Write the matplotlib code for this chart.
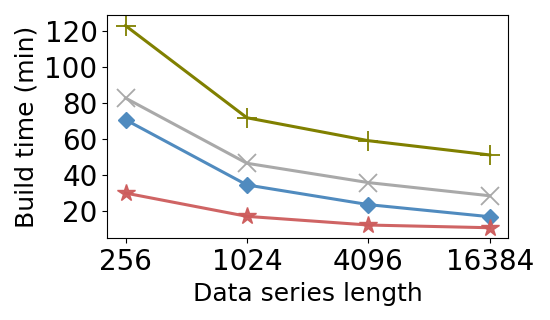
import matplotlib
matplotlib.use("Agg")
import matplotlib.pyplot as plt

x_labels = ["256", "1024", "4096", "16384"]
olive_vals = [122.8, 71.8, 59.1, 51.2]
gray_vals = [82.7, 46.6, 35.9, 28.6]
blue_vals = [70.7, 34.6, 23.7, 17.0]
red_vals = [30.1, 17.2, 12.4, 10.9]

fig = plt.figure(figsize=(5.5, 3.2), dpi=100)
ax = fig.add_axes([107.3/550, 1-238.3/320, (508-107.3)/550, (238.3-15)/320])
xs = list(range(len(x_labels)))
ax.plot(xs, olive_vals, color="#808000", marker="+", markersize=14, lw=2.2, mew=1.3)
ax.plot(xs, gray_vals, color="#a9a9a9", marker="x", markersize=13, lw=2.2, mew=1.3)
ax.plot(xs, blue_vals, color="#508bbf", marker="D", markersize=8, lw=2.2)
ax.plot(xs, red_vals, color="#cd5c5c", marker="*", markersize=13, lw=2.2, alpha=0.95)
ax.set_xticks(xs)
ax.set_xticklabels(x_labels)
ax.set_ylim(5.05, 128.7)
ax.set_yticks([20, 40, 60, 80, 100, 120])
ax.tick_params(labelsize=20)
ax.set_xlabel("Data series length", fontsize=18)
ax.set_ylabel("Build time (min)", fontsize=18)
fig.savefig("out.png", dpi=100)
